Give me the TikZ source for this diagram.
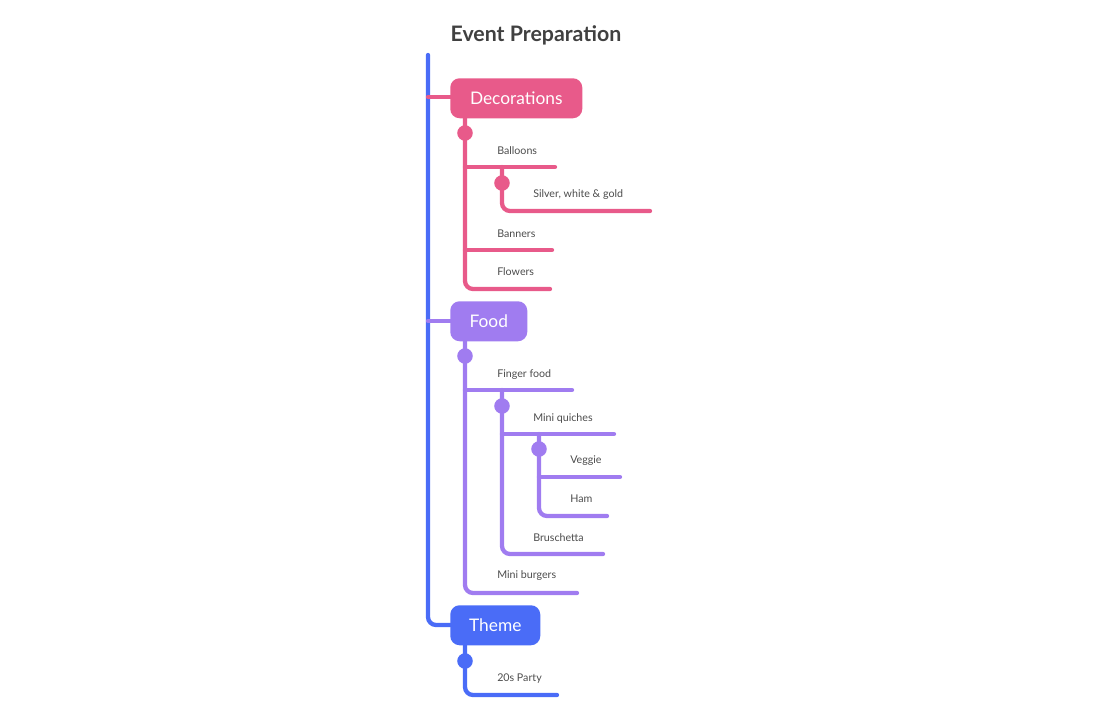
\documentclass[tikz,border=0pt]{standalone}
\usepackage{fontspec}
\setmainfont{Lato}
\begin{document}
\begin{tikzpicture}[x=0.75pt,y=-0.75pt,
  br/.style={line width=3.2pt,line cap=round,rounded corners=6pt},
  topic/.style={rounded corners=7pt,text=white,font=\fontsize{13}{15}\selectfont,inner sep=0pt,anchor=north west},
  leaf/.style={anchor=west,font=\fontsize{8}{10}\selectfont,text=black!70,inner sep=0pt},
  knob/.style={circle,draw,line width=2.6pt,fill=white,minimum size=9pt,inner sep=0pt}]
\definecolor{pk}{HTML}{E85A8A}\definecolor{pu}{HTML}{A07CF0}\definecolor{bl}{HTML}{4A6CF7}
\useasboundingbox (0,0) rectangle (1120,720);
\node[font=\bfseries\fontsize{16}{18}\selectfont,text=black!75] (title) at (536,35) {Event Preparation};
% spine
\draw[br,bl] (428,55) -- (428,625) -- (452,625);
\draw[br,pk] (428,97) -- (452,97);
\draw[br,pu] (428,321) -- (452,321);
% topic boxes
\node[topic,fill=pk,minimum width=132*0.75pt,minimum height=40*0.75pt] (dec) at (450,78) {Decorations};
\node[topic,fill=pu,minimum width=77*0.75pt,minimum height=40*0.75pt] (food) at (450,301) {Food};
\node[topic,fill=bl,minimum width=90*0.75pt,minimum height=40*0.75pt] (theme) at (450,605) {Theme};
% Decorations
\coordinate (d0) at (465,118);
\draw[br,pk] (d0) -- (465,289) -- (550,289);
\draw[br,pk] (465,167) -- (555,167);
\draw[br,pk] (465,250) -- (552,250);
\draw[br,pk] (502,167) -- (502,211) -- (650,211);
\node[knob,pk] (k1) at (465,133) {};
\node[knob,pk] (k2) at (502,183) {};
\node[leaf] (balloons) at (497,151) {Balloons};
\node[leaf] (silver) at (533,195) {Silver, white \& gold};
\node[leaf] (banners) at (497,234) {Banners};
\node[leaf] (flowers) at (497,272) {Flowers};
% Food
\draw[br,pu] (465,341) -- (465,593) -- (577,593);
\draw[br,pu] (465,390) -- (572,390);
\draw[br,pu] (502,390) -- (502,554) -- (603,554);
\draw[br,pu] (502,434) -- (614,434);
\draw[br,pu] (539,434) -- (539,516) -- (607,516);
\draw[br,pu] (539,477) -- (620,477);
\node[knob,pu] (k3) at (465,356) {};
\node[knob,pu] (k4) at (502,406) {};
\node[knob,pu] (k5) at (539,449) {};
\node[leaf] (finger) at (497,375) {Finger food};
\node[leaf] (quiche) at (533,418) {Mini quiches};
\node[leaf] (veggie) at (570,461) {Veggie};
\node[leaf] (ham) at (570,499) {Ham};
\node[leaf] (brus) at (533,538) {Bruschetta};
\node[leaf] (burg) at (497,576) {Mini burgers};
% Theme
\draw[br,bl] (465,645) -- (465,695) -- (557,695);
\node[knob,bl] (k6) at (465,661) {};
\node[leaf] (party) at (497,679) {20s Party};
\end{tikzpicture}
\end{document}
